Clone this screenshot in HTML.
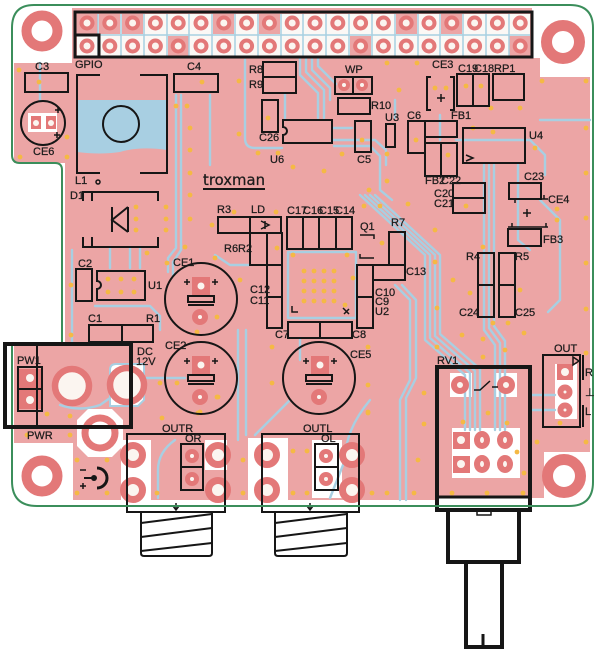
<!DOCTYPE html>
<html><head><meta charset="utf-8">
<style>
html,body{margin:0;padding:0;background:#fff;}
svg{display:block;}
text{font-family:"Liberation Sans",sans-serif;font-size:11px;fill:#1c1c1c;stroke:#1c1c1c;stroke-width:0.25;}
.v{fill:#f5b944;}
.s{fill:none;stroke:#161616;stroke-width:2;}
.t{fill:none;stroke:#a8cfe2;stroke-width:2.4;stroke-linejoin:round;stroke-linecap:round;}
.p{fill:#fbf5f0;stroke:#e37878;stroke-width:4;}
.pk{fill:#e37878;}
</style></head><body>
<svg width="600" height="652" viewBox="0 0 600 652" xmlns="http://www.w3.org/2000/svg">
<rect width="600" height="652" fill="#fff"/>
<!-- copper pour -->
<path d="M14,63 H72 V8 H532 V58 H540 V77 H590 V452 H544 V498 H437 V500 H73 V443 H14 V345 H65 V163 H14 Z" fill="#eca5a5"/>
<!-- header interior -->
<rect x="77" y="14" width="453" height="42" fill="#fbf8f5"/>
<g fill="#eca5a5">
<rect x="77" y="14" width="21" height="20"/><rect x="99" y="14" width="21" height="20"/><rect x="122" y="14" width="21" height="20"/>
<rect x="213" y="14" width="21" height="20"/><rect x="396" y="14" width="21" height="20"/><rect x="441" y="14" width="21" height="20"/>
<rect x="168" y="36" width="21" height="20"/><rect x="350" y="36" width="21" height="20"/><rect x="509" y="36" width="21" height="20"/>
<rect x="259" y="14" width="21" height="20"/>
</g>
<g stroke="#a8cfe2" stroke-width="1.5">
<path d="M77,35 H530"/>
<path d="M98,14V56M121,14V56M144,14V56M167,14V56M189,14V56M212,14V56M235,14V56M258,14V56M281,14V56M303,14V56M326,14V56M349,14V56M372,14V56M395,14V56M418,14V56M440,14V56M463,14V56M486,14V56M509,14V56"/>
</g>
<!-- white zones -->
<rect x="121" y="440" width="30" height="60" fill="#fff"/>
<rect x="205" y="440" width="22" height="30" fill="#fff"/>
<rect x="248" y="438" width="40" height="62" fill="#fff"/>
<rect x="312" y="440" width="30" height="58" fill="#fff"/>
<path d="M77,420 L88,409 H112 L123,420 V446 L112,457 H88 L77,446 Z" fill="#fff"/>
<path d="M110,370 Q110,364 116,364 H144 V400 L138,406 H110 Z" fill="#fff" stroke="#a8cfe2" stroke-width="2"/>
<rect x="450" y="373" width="22" height="24" fill="#fff"/>
<rect x="495" y="373" width="22" height="24" fill="#fff"/>
<rect x="452" y="428" width="68" height="50" fill="#fff"/>
<rect x="555" y="364" width="22" height="55" fill="#fff"/>
<rect x="28" y="113" width="29" height="19" fill="#fff"/>
<!-- L1 blue area -->
<path d="M77,100 H167 V150 Q140,146 120,152 Q100,155 77,152 Z" fill="#a8cfe2"/>
<!-- traces -->
<g class="t">
<path d="M176,95 V248 L168,258 V272"/>
<path d="M181,95 V250 L173,262 V275"/>
<path d="M110,247 V268"/><path d="M130,247 V268"/><path d="M140,247 V268"/>
<path d="M95,306 H150 L160,316 V330"/>
<path d="M72,250 V345"/>
<path d="M40,63 V100"/>
<path d="M245,60 V138 Q245,148 255,148 H282"/>
<path d="M300,57 V75 L318,93 V118"/>
<path d="M306,57 V72 L324,90 V118"/>
<path d="M312,57 V70 L330,88 V100"/>
<path d="M318,57 V66 L336,84"/>
<path d="M285,93 V118"/>
<path d="M332,128 H352"/>
<path d="M332,140 H375 L386,150 V165"/>
<path d="M334,146 H370 L380,156 V190 L392,200"/>
<path d="M395,100 V118"/>
<path d="M440,115 V140"/>
<path d="M360,195 L425,255 V340 L465,375 V430"/>
<path d="M365,195 L430,255 V338 L470,373 V430"/>
<path d="M370,195 L435,255 V336 L475,371 V430"/>
<path d="M375,195 L440,255 V334 L480,369 V430"/>
<path d="M484,165 V330 L495,345 V430"/>
<path d="M489,165 V328 L500,343 V430"/>
<path d="M494,165 V326 L505,341 V430"/>
<path d="M518,165 V240 L530,250"/>
<path d="M456,140 H530 L545,155 V175"/>
<path d="M540,200 L560,220 V300 L548,312"/>
<path d="M395,285 L410,300 V380 L400,400 V500"/>
<path d="M402,285 L416,300 V378 L406,398 V500"/>
<path d="M300,340 V360"/>
<path d="M238,330 V440"/>
<path d="M246,330 V435"/>
<path d="M175,440 Q158,452 158,470 V498"/>
<path d="M290,400 L255,435"/>
<path d="M370,400 Q345,430 345,460 L330,498"/>
<path d="M250,265 H230 L215,255"/>
<path d="M288,252 H356 V318 H288 Z"/>
<path d="M532,395 H555"/><path d="M532,410 H555"/>
<path d="M210,95 V165"/>
<path d="M540,120 H590"/>
<path d="M145,378 H185"/>
<path d="M60,405 Q80,412 100,405 L110,398"/>
</g>
<!-- vias -->
<g class="v">
<circle cx="19" cy="70" r="2.4"/><circle cx="39" cy="82" r="2.4"/><circle cx="67" cy="137" r="2.4"/><circle cx="20" cy="157" r="2.4"/><circle cx="67" cy="157" r="2.4"/><circle cx="202" cy="82" r="2.4"/><circle cx="239" cy="81" r="2.4"/><circle cx="176" cy="106" r="2.4"/><circle cx="187" cy="106" r="2.4"/><circle cx="190" cy="128" r="2.4"/><circle cx="239" cy="134" r="2.4"/><circle cx="190" cy="150" r="2.4"/><circle cx="258" cy="153" r="2.4"/><circle cx="278" cy="153" r="2.4"/><circle cx="190" cy="173" r="2.4"/><circle cx="190" cy="195" r="2.4"/><circle cx="268" cy="118" r="2.4"/><circle cx="293" cy="167" r="2.4"/><circle cx="234" cy="212" r="2.4"/><circle cx="276" cy="212" r="2.4"/>
<circle cx="387" cy="63" r="2.4"/><circle cx="417" cy="63" r="2.4"/><circle cx="399" cy="90" r="2.4"/><circle cx="435" cy="88" r="2.4"/><circle cx="446" cy="88" r="2.4"/><circle cx="466" cy="86" r="2.4"/><circle cx="481" cy="86" r="2.4"/><circle cx="491" cy="108" r="2.4"/><circle cx="520" cy="108" r="2.4"/><circle cx="542" cy="81" r="2.4"/><circle cx="586" cy="81" r="2.4"/><circle cx="586" cy="128" r="2.4"/><circle cx="535" cy="148" r="2.4"/><circle cx="493" cy="132" r="2.4"/><circle cx="473" cy="128" r="2.4"/><circle cx="448" cy="155" r="2.4"/><circle cx="416" cy="140" r="2.4"/><circle cx="387" cy="154" r="2.4"/><circle cx="362" cy="140" r="2.4"/><circle cx="342" cy="154" r="2.4"/><circle cx="324" cy="171" r="2.4"/><circle cx="387" cy="181" r="2.4"/><circle cx="369" cy="190" r="2.4"/><circle cx="586" cy="173" r="2.4"/><circle cx="557" cy="209" r="2.4"/><circle cx="466" cy="206" r="2.4"/>
<circle cx="364" cy="206" r="2.4"/><circle cx="380" cy="206" r="2.4"/><circle cx="408" cy="204" r="2.4"/><circle cx="435" cy="230" r="2.4"/><circle cx="586" cy="218" r="2.4"/><circle cx="586" cy="263" r="2.4"/><circle cx="557" cy="220" r="2.4"/><circle cx="483" cy="247" r="2.4"/><circle cx="435" cy="262" r="2.4"/><circle cx="453" cy="280" r="2.4"/><circle cx="470" cy="293" r="2.4"/><circle cx="520" cy="290" r="2.4"/><circle cx="437" cy="308" r="2.4"/><circle cx="586" cy="309" r="2.4"/><circle cx="493" cy="323" r="2.4"/><circle cx="508" cy="323" r="2.4"/><circle cx="462" cy="335" r="2.4"/><circle cx="524" cy="333" r="2.4"/><circle cx="437" cy="347" r="2.4"/><circle cx="483" cy="339" r="2.4"/><circle cx="505" cy="350" r="2.4"/><circle cx="483" cy="357" r="2.4"/><circle cx="586" cy="353" r="2.4"/><circle cx="382" cy="243" r="2.4"/><circle cx="353" cy="278" r="2.4"/><circle cx="368" cy="385" r="2.4"/><circle cx="368" cy="412" r="2.4"/><circle cx="424" cy="393" r="2.4"/><circle cx="368" cy="347" r="2.4"/>
<circle cx="190" cy="219" r="2.4"/><circle cx="212" cy="225" r="2.4"/><circle cx="185" cy="247" r="2.4"/><circle cx="147" cy="253" r="2.4"/><circle cx="167" cy="263" r="2.4"/><circle cx="215" cy="258" r="2.4"/><circle cx="71" cy="285" r="2.4"/><circle cx="240" cy="280" r="2.4"/><circle cx="71" cy="335" r="2.4"/><circle cx="197" cy="332" r="2.4"/><circle cx="217" cy="317" r="2.4"/><circle cx="160" cy="383" r="2.4"/><circle cx="177" cy="383" r="2.4"/><circle cx="218" cy="397" r="2.4"/><circle cx="200" cy="412" r="2.4"/><circle cx="272" cy="383" r="2.4"/><circle cx="272" cy="347" r="2.4"/><circle cx="277" cy="248" r="2.4"/>
<circle cx="47" cy="414" r="2.4"/><circle cx="70" cy="416" r="2.4"/><circle cx="70" cy="435" r="2.4"/><circle cx="27" cy="435" r="2.4"/><circle cx="77" cy="460" r="2.4"/><circle cx="107" cy="460" r="2.4"/><circle cx="77" cy="493" r="2.4"/><circle cx="107" cy="493" r="2.4"/><circle cx="157" cy="493" r="2.4"/><circle cx="162" cy="418" r="2.4"/>
<circle cx="198" cy="413" r="2.4"/><circle cx="217" cy="397" r="2.4"/><circle cx="293" cy="451" r="2.4"/><circle cx="307" cy="451" r="2.4"/><circle cx="243" cy="460" r="2.4"/><circle cx="293" cy="493" r="2.4"/><circle cx="307" cy="493" r="2.4"/><circle cx="243" cy="493" r="2.4"/><circle cx="368" cy="413" r="2.4"/><circle cx="424" cy="424" r="2.4"/><circle cx="418" cy="460" r="2.4"/><circle cx="387" cy="493" r="2.4"/><circle cx="414" cy="493" r="2.4"/><circle cx="372" cy="493" r="2.4"/>
<circle cx="463" cy="422" r="2.4"/><circle cx="488" cy="413" r="2.4"/><circle cx="507" cy="423" r="2.4"/><circle cx="537" cy="442" r="2.4"/><circle cx="586" cy="442" r="2.4"/><circle cx="560" cy="423" r="2.4"/><circle cx="452" cy="493" r="2.4"/><circle cx="487" cy="493" r="2.4"/><circle cx="523" cy="493" r="2.4"/><circle cx="524" cy="473" r="2.4"/><circle cx="517" cy="452" r="2.4"/>
<circle cx="304" cy="271" r="2.4"/><circle cx="314" cy="271" r="2.4"/><circle cx="324" cy="271" r="2.4"/><circle cx="334" cy="271" r="2.4"/>
<circle cx="304" cy="281" r="2.4"/><circle cx="314" cy="281" r="2.4"/><circle cx="324" cy="281" r="2.4"/><circle cx="334" cy="281" r="2.4"/>
<circle cx="304" cy="291" r="2.4"/><circle cx="314" cy="291" r="2.4"/><circle cx="324" cy="291" r="2.4"/><circle cx="334" cy="291" r="2.4"/>
<circle cx="304" cy="301" r="2.4"/><circle cx="314" cy="301" r="2.4"/><circle cx="324" cy="301" r="2.4"/><circle cx="334" cy="301" r="2.4"/>
<circle cx="293" cy="255" r="2.4"/><circle cx="347" cy="255" r="2.4"/><circle cx="345" cy="305" r="2.4"/>
<circle cx="136" cy="207" r="2.4"/><circle cx="136" cy="219" r="2.4"/><circle cx="136" cy="230" r="2.4"/><circle cx="166" cy="207" r="2.4"/><circle cx="166" cy="219" r="2.4"/><circle cx="166" cy="230" r="2.4"/>
<circle cx="108" cy="279" r="2.4"/><circle cx="121" cy="279" r="2.4"/><circle cx="134" cy="279" r="2.4"/><circle cx="108" cy="292" r="2.4"/><circle cx="121" cy="292" r="2.4"/><circle cx="134" cy="292" r="2.4"/>
</g>
<!-- mounting holes -->
<circle cx="42" cy="31" r="15.5" fill="none" stroke="#e37878" stroke-width="10"/>
<circle cx="563" cy="42" r="16.5" fill="none" stroke="#e37878" stroke-width="11"/>
<circle cx="42" cy="476" r="15.5" fill="none" stroke="#e37878" stroke-width="10"/>
<circle cx="564" cy="476" r="16.5" fill="none" stroke="#e37878" stroke-width="11"/>
<circle cx="100" cy="433" r="15" fill="#fff" stroke="#e37878" stroke-width="7"/>
<!-- header pins -->
<g class="p">
<circle cx="87" cy="23" r="5.5"/><circle cx="109.8" cy="23" r="5.5"/><circle cx="132.6" cy="23" r="5.5"/><circle cx="155.4" cy="23" r="5.5"/><circle cx="178.2" cy="23" r="5.5"/><circle cx="201" cy="23" r="5.5"/><circle cx="223.8" cy="23" r="5.5"/><circle cx="246.6" cy="23" r="5.5"/><circle cx="269.4" cy="23" r="5.5"/><circle cx="292.2" cy="23" r="5.5"/><circle cx="315" cy="23" r="5.5"/><circle cx="337.8" cy="23" r="5.5"/><circle cx="360.6" cy="23" r="5.5"/><circle cx="383.4" cy="23" r="5.5"/><circle cx="406.2" cy="23" r="5.5"/><circle cx="429" cy="23" r="5.5"/><circle cx="451.8" cy="23" r="5.5"/><circle cx="474.6" cy="23" r="5.5"/><circle cx="497.4" cy="23" r="5.5"/><circle cx="520.2" cy="23" r="5.5"/>
<circle cx="87" cy="46" r="5.5"/><circle cx="109.8" cy="46" r="5.5"/><circle cx="132.6" cy="46" r="5.5"/><circle cx="155.4" cy="46" r="5.5"/><circle cx="178.2" cy="46" r="5.5"/><circle cx="201" cy="46" r="5.5"/><circle cx="223.8" cy="46" r="5.5"/><circle cx="246.6" cy="46" r="5.5"/><circle cx="269.4" cy="46" r="5.5"/><circle cx="292.2" cy="46" r="5.5"/><circle cx="315" cy="46" r="5.5"/><circle cx="337.8" cy="46" r="5.5"/><circle cx="360.6" cy="46" r="5.5"/><circle cx="383.4" cy="46" r="5.5"/><circle cx="406.2" cy="46" r="5.5"/><circle cx="429" cy="46" r="5.5"/><circle cx="451.8" cy="46" r="5.5"/><circle cx="474.6" cy="46" r="5.5"/><circle cx="497.4" cy="46" r="5.5"/><circle cx="520.2" cy="46" r="5.5"/>
</g>
<!-- misc pads -->
<g class="p">
<circle cx="72" cy="386" r="17" stroke-width="6.5"/>
<circle cx="127" cy="385" r="17" stroke-width="6.5"/>
<circle cx="133" cy="455" r="9.5" stroke-width="7"/><circle cx="133" cy="490" r="9.5" stroke-width="7"/>
<circle cx="218" cy="455" r="9.5" stroke-width="7"/><circle cx="218" cy="490" r="9.5" stroke-width="7"/>
<circle cx="267" cy="455" r="9.5" stroke-width="7"/><circle cx="267" cy="490" r="9.5" stroke-width="7"/>
<circle cx="352" cy="455" r="9.5" stroke-width="7"/><circle cx="352" cy="490" r="9.5" stroke-width="7"/>
<circle cx="192" cy="456" r="4.5" stroke-width="5"/><circle cx="192" cy="479" r="4.5" stroke-width="5"/>
<circle cx="326" cy="456" r="4.5" stroke-width="5"/><circle cx="326" cy="479" r="4.5" stroke-width="5"/>
<circle cx="460" cy="385" r="6" stroke-width="6"/><circle cx="506" cy="385" r="6" stroke-width="6"/>
<circle cx="344" cy="85" r="4" stroke-width="4"/><circle cx="362" cy="85" r="4" stroke-width="4"/>
<circle cx="200" cy="317" r="5" stroke-width="6"/><circle cx="200" cy="397" r="5" stroke-width="6"/><circle cx="319" cy="397" r="5" stroke-width="6"/>
<ellipse cx="482" cy="440" rx="5" ry="6" stroke-width="6"/><ellipse cx="482" cy="464" rx="5" ry="6" stroke-width="6"/>
<ellipse cx="505" cy="440" rx="5" ry="6" stroke-width="6"/><ellipse cx="505" cy="464" rx="5" ry="6" stroke-width="6"/>
<circle cx="565" cy="392" r="4.5" stroke-width="6"/><circle cx="565" cy="410" r="4.5" stroke-width="6"/>
</g>
<g class="pk">
<rect x="192" y="277" width="18" height="18"/><rect x="192" y="356" width="18" height="18"/><rect x="311" y="356" width="18" height="18"/>
<rect x="19" y="369" width="22" height="19"/><rect x="19" y="390" width="22" height="19"/>
<rect x="453" y="432" width="17" height="17"/><rect x="453" y="456" width="17" height="17"/>
<rect x="557" y="364" width="16" height="16"/>
<rect x="31" y="116" width="10" height="13"/><rect x="46" y="116" width="10" height="13"/>
</g>
<g fill="#fbf5f0">
<circle cx="201" cy="286" r="3.5"/><circle cx="201" cy="365" r="3.5"/><circle cx="320" cy="365" r="3.5"/>
<circle cx="30" cy="378" r="4"/><circle cx="30" cy="400" r="4"/>
<circle cx="461" cy="440" r="4"/><circle cx="461" cy="464" r="4"/><circle cx="565" cy="372" r="4"/>
<circle cx="36" cy="123" r="3"/><circle cx="51" cy="123" r="3"/>
</g>
<!-- silkscreen -->
<g class="s">
<rect x="75" y="12" width="457" height="45" stroke-width="3"/>
<rect x="75" y="35" width="24" height="22" stroke-width="3"/>
<rect x="25" y="73" width="43" height="19"/>
<rect x="174" y="74" width="44" height="18"/>
<circle cx="43" cy="123" r="22"/>
<path d="M100,75 H77 V173 H100 M140,75 H167 V173 H140"/>
<circle cx="121" cy="124" r="18"/>
<circle cx="98" cy="182" r="2" stroke-width="1.5"/>
<path d="M83,201 V192 H158 V201 M92,192 V201 M83,237 V247 H158 V237 M92,247 V237"/>
<path d="M112,207 V232 M128,207 L112,220 L128,232 M128,207 V232"/>
<rect x="76" y="269" width="16" height="32"/>
<path d="M97,271 H145 V300 H97 V289 A4,4 0 0 0 97,281 Z"/>
<rect x="89" y="325" width="64" height="17"/><path d="M122,325 V342"/>
<circle cx="201" cy="299" r="36"/>
<circle cx="201" cy="378" r="36"/>
<circle cx="319" cy="378" r="36"/>
<rect x="188" y="296" width="26" height="6"/><path d="M188,305 H214"/>
<rect x="188" y="375" width="26" height="6"/><path d="M188,384 H214"/>
<rect x="306" y="375" width="26" height="6"/><path d="M306,384 H332"/>
<rect x="218" y="217" width="32" height="16"/><rect x="250" y="217" width="31" height="16"/>
<rect x="250" y="233" width="17" height="32"/>
<rect x="267" y="233" width="15" height="95"/><path d="M267,265 H282 M267,297 H282"/>
<rect x="287" y="217" width="65" height="32"/><path d="M303,217 V249 M319,217 V249 M336,217 V249"/>
<path d="M360,235 H374 V239 M360,254 V258 H374" stroke-width="1.5"/>
<rect x="389" y="232" width="16" height="33"/>
<rect x="373" y="265" width="32" height="15"/>
<rect x="357" y="265" width="16" height="63"/><path d="M357,297 H373"/>
<rect x="288" y="322" width="64" height="16"/><path d="M320,322 V338"/>
<path d="M292,306 V312 H298 M343,308 L349,314 M344,314 L349,309" stroke-width="1.5"/>
<rect x="263" y="62" width="33" height="31"/><path d="M263,77 H296"/>
<rect x="262" y="100" width="16" height="32"/>
<path d="M283,120 H332 V143 H283 V135 A4,4 0 0 0 283,127 Z"/>
<rect x="335" y="77" width="37" height="17"/><path d="M353,77 V94"/>
<rect x="338" y="98" width="32" height="16"/>
<rect x="355" y="121" width="16" height="31"/>
<rect x="386" y="124" width="9" height="23"/>
<rect x="408" y="121" width="17" height="32"/>
<rect x="425" y="121" width="32" height="16"/>
<rect x="425" y="143" width="16" height="33"/><rect x="441" y="143" width="16" height="33"/>
<path d="M431,77 H427 V110 H431 M450,77 H454 V110 H450"/>
<rect x="457" y="74" width="32" height="32"/><path d="M473,74 V106"/>
<rect x="493" y="74" width="31" height="26"/>
<rect x="463" y="128" width="62" height="35"/>
<path d="M466,155 L473,158 L466,161" stroke-width="1.5"/>
<rect x="453" y="183" width="32" height="30"/><path d="M453,198 H485"/>
<rect x="509" y="183" width="32" height="16"/>
<path d="M512,199 H548 M515,199 V203 M544,199 V195" stroke-width="1.5"/>
<rect x="508" y="229" width="33" height="17"/>
<path d="M508,227 H548 M512,227 V223 M546,227 V223" stroke-width="1.5"/>
<rect x="478" y="253" width="16" height="64"/><path d="M478,285 H494"/>
<rect x="499" y="253" width="16" height="64"/><path d="M499,285 H515"/>
<rect x="543" y="355" width="37" height="72"/>
<path d="M583,355 V380 M583,405 V427"/>
<path d="M573,357 L579,361 L573,365 Z" stroke-width="1.5"/>
<rect x="18" y="367" width="24" height="44"/><path d="M18,389 H42"/>
<path d="M127,512 V434 H225 V512 Z"/>
<path d="M262,512 V434 H359 V512 Z"/>
<rect x="181" y="444" width="22" height="46"/><path d="M181,467 H203"/>
<rect x="315" y="444" width="23" height="46"/><path d="M315,467 H338"/>
<path d="M141,512 V553 Q141,556 144,556 H209 Q212,556 212,553 V512"/>
<path d="M141,523 L212,514 M141,537 L212,528 M141,551 L212,543"/>
<path d="M275,512 V553 Q275,556 278,556 H344 Q347,556 347,553 V512"/>
<path d="M275,523 L347,514 M275,537 L347,528 M275,551 L347,543"/>
<path d="M176,503 V510 M173,506 L176,510 L179,506" stroke-width="1.5"/>
<path d="M310,503 V510 M307,506 L310,510 L313,506" stroke-width="1.5"/>
<rect x="437" y="367" width="93" height="143" stroke-width="4"/>
<path d="M437,497 H530" stroke-width="3"/>
<path d="M448,510 V562 H519 V510" stroke-width="4"/>
<rect x="477" y="510" width="14" height="5" stroke-width="1.5"/>
<path d="M466,562 V647 H502 V562" stroke-width="4"/>
<path d="M483,634 V647" stroke-width="3"/>
<path d="M474,390 H480 L490,381 M492,387 H498" stroke-width="1.5"/>
<path d="M265,221 V229 M261,221 L269,225 L261,229" stroke-width="1.5"/>
<path d="M97,468 A10,10 0 1 1 97,488" stroke-width="3"/>
<path d="M84,478 H93" stroke-width="2"/>
<path d="M80,470 H86 M80,486 H86 M83,483 V489" stroke-width="1.5"/>
<path d="M203,189 H265"/>
</g>
<circle cx="94" cy="478" r="3" fill="#161616"/>
<g stroke="#161616" stroke-width="1.5" fill="none">
<path d="M55,110 h6 M58,107 v6"/>
<path d="M54,135 h6 M57,132 v6"/>
<path d="M184,282 h6 M187,279 v6 M212,282 h6 M215,279 v6"/>
<path d="M184,361 h6 M187,358 v6 M212,361 h6 M215,358 v6"/>
<path d="M303,361 h6 M306,358 v6 M331,361 h6 M334,358 v6"/>
<path d="M437,98 h8 M441,94 v8"/>
<path d="M523,213 h8 M527,209 v8"/>
</g>
<!-- board outline -->
<path d="M34,5 H570 Q593,5 593,28 V482 Q593,506 569,506 H37 Q12,506 12,481 V345 H62 V170 Q62,163 55,163 H20 Q12,163 12,155 V28 Q12,5 34,5 Z" fill="none" stroke="#3b8e5b" stroke-width="2"/>
<!-- PW1 box over outline -->
<rect x="5" y="344" width="126" height="83" fill="none" stroke="#161616" stroke-width="4"/>
<path d="M37,344 V427" stroke="#161616" stroke-width="2"/>
<!-- labels -->
<text x="75" y="68">GPIO</text>
<text x="35" y="70">C3</text>
<text x="33" y="155">CE6</text>
<text x="187" y="70">C4</text>
<text x="249" y="73">R8</text>
<text x="249" y="88">R9</text>
<text x="259" y="141">C26</text>
<text x="270" y="163">U6</text>
<text x="75" y="184">L1</text>
<text x="70" y="199">D1</text>
<text x="203" y="185" style="font-size:15px;font-family:'DejaVu Sans',sans-serif" textLength="62" lengthAdjust="spacingAndGlyphs">troxman</text>
<text x="345" y="73">WP</text>
<text x="371" y="109">R10</text>
<text x="385" y="121">U3</text>
<text x="407" y="119">C6</text>
<text x="357" y="163">C5</text>
<text x="432" y="68">CE3</text>
<text x="458" y="72">C19</text>
<text x="474" y="72">C18</text>
<text x="494" y="72">RP1</text>
<text x="451" y="119">FB1</text>
<text x="529" y="139">U4</text>
<text x="425" y="184">FB2</text>
<text x="441" y="184">C22</text>
<text x="434" y="197">C20</text>
<text x="434" y="207">C21</text>
<text x="524" y="180">C23</text>
<text x="548" y="203">CE4</text>
<text x="543" y="243">FB3</text>
<text x="466" y="260">R4</text>
<text x="515" y="260">R5</text>
<text x="459" y="316">C24</text>
<text x="515" y="316">C25</text>
<text x="406" y="275">C13</text>
<text x="391" y="226">R7</text>
<text x="360" y="230">Q1</text>
<text x="375" y="296">C10</text>
<text x="375" y="305">C9</text>
<text x="375" y="315">U2</text>
<text x="352" y="338">C8</text>
<text x="275" y="338">C7</text>
<text x="250" y="293">C12</text>
<text x="250" y="304">C11</text>
<text x="224" y="252">R6R2</text>
<text x="217" y="213">R3</text>
<text x="251" y="213">LD</text>
<text x="287" y="214">C17</text>
<text x="303" y="214">C16</text>
<text x="319" y="214">C15</text>
<text x="335" y="214">C14</text>
<text x="173" y="266">CE1</text>
<text x="165" y="349">CE2</text>
<text x="350" y="358">CE5</text>
<text x="78" y="267">C2</text>
<text x="148" y="289">U1</text>
<text x="88" y="322">C1</text>
<text x="146" y="322">R1</text>
<text x="17" y="364">PW1</text>
<text x="137" y="355">DC</text>
<text x="136" y="365">12V</text>
<text x="27" y="439">PWR</text>
<text x="162" y="432">OUTR</text>
<text x="185" y="442">OR</text>
<text x="303" y="432">OUTL</text>
<text x="321" y="442">OL</text>
<text x="437" y="364">RV1</text>
<text x="554" y="352">OUT</text>
<text x="585" y="376">R</text>
<text x="585" y="396">⊥</text>
<text x="585" y="415">L</text>
</svg>
</body></html>
